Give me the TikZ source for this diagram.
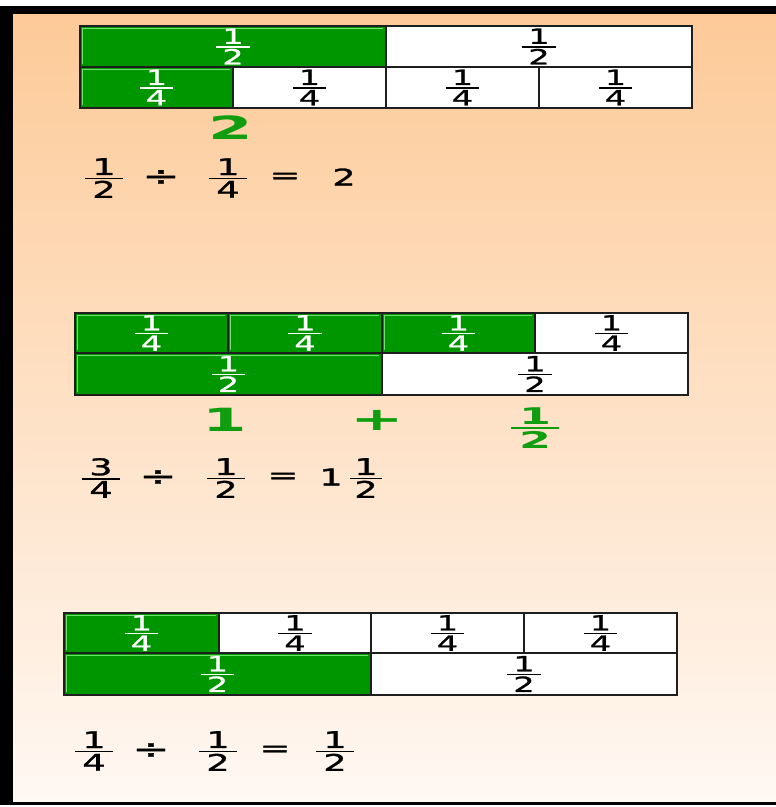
\documentclass[tikz,border=0pt]{standalone}
\usepackage{fontspec}
\setmainfont{DejaVu Sans}
\newfontfamily\cellfont[FakeStretch=1.6,FakeBold=1.3]{DejaVu Sans}
\newfontfamily\eqfont[FakeStretch=1.6,FakeBold=1.3]{DejaVu Sans}
\newfontfamily\bigfont[FakeStretch=2.0]{DejaVu Sans}

\definecolor{bgtop}{RGB}{253,202,152}
\definecolor{bgmid}{RGB}{255,225,198}
\definecolor{bgbot}{RGB}{255,248,243}
\definecolor{cellgreen}{RGB}{0,150,0}
\definecolor{bevelgreen}{RGB}{110,225,110}
\definecolor{labelgreen}{RGB}{16,158,16}
\definecolor{gridline}{RGB}{30,30,30}

% stacked fraction: #1 side padding, #2 numerator, #3 denominator, #4 bar thickness
\newcommand\stackfrac[4]{$\hbox{}{\hbox{\kern#1#2\kern#1}\above #4\hbox{\kern#1#3\kern#1}}$}
\newcommand\cfr[2]{{\cellfont\fontsize{21}{21}\selectfont\stackfrac{6pt}{#1}{#2}{1.4pt}}}
\newcommand\efr[2]{{\eqfont\fontsize{23}{23}\selectfont\stackfrac{7pt}{#1}{#2}{1.5pt}}}
% wider division sign
\newcommand\divsign{{\fontsize{28}{28}\selectfont ÷}}

\tikzset{
  cellbase/.style={draw=gridline, line width=2pt, inner sep=0pt, anchor=center},
  whitecell/.style={cellbase, fill=white, text=black},
  greencell/.style={cellbase, fill=cellgreen, text=white,
    path picture={\draw[bevelgreen, line width=1.6pt]
      ([xshift=2.6pt,yshift=2.6pt]path picture bounding box.south west) |-
      ([xshift=-2.6pt,yshift=-2.6pt]path picture bounding box.north east);}},
  eqtext/.style={inner sep=0pt, text=black, font=\eqfont\fontsize{23}{23}\selectfont},
  biglabel/.style={inner sep=0pt, text=labelgreen, font=\bigfont\bfseries\fontsize{32}{32}\selectfont},
}

\begin{document}
\begin{tikzpicture}[x=1pt,y=-1pt]
\useasboundingbox (0,0) rectangle (776,807);

% background and frame
\fill[white] (0,0) rectangle (776,807);
\shade[top color=bgtop, middle color=bgmid, bottom color=bgbot] (13,14) rectangle (776,802);
\fill[black] (0,6) rectangle (776,14);
\fill[black] (0,6) rectangle (13,805);
\fill[black] (0,801.5) rectangle (776,804.5);

% ---- 1/2 divided by 1/4 ----
\node[greencell, minimum width=306, minimum height=41] (a1) at (233,46.5) {\cfr{1}{2}};
\node[whitecell, minimum width=306, minimum height=41] (a2) at (539,46.5) {\cfr{1}{2}};
\node[greencell, minimum width=153, minimum height=41] (b1) at (156.5,87.5) {\cfr{1}{4}};
\node[whitecell, minimum width=153, minimum height=41] (b2) at (309.5,87.5) {\cfr{1}{4}};
\node[whitecell, minimum width=153, minimum height=41] (b3) at (462.5,87.5) {\cfr{1}{4}};
\node[whitecell, minimum width=153, minimum height=41] (b4) at (615.5,87.5) {\cfr{1}{4}};
\node[biglabel] (q1) at (231,128) {2};

\node[eqtext] (e1a) at (104,178) {\efr{1}{2}};
\node[eqtext] (e1b) at (161,178) {\divsign};
\node[eqtext] (e1c) at (228,178) {\efr{1}{4}};
\node[eqtext] (e1d) at (285,178) {=};
\node[eqtext] (e1e) at (344,177) {2};

% ---- 3/4 divided by 1/2 ----
\node[greencell, minimum width=153, minimum height=40] (c1) at (151.5,333) {\cfr{1}{4}};
\node[greencell, minimum width=154, minimum height=40] (c2) at (305,333) {\cfr{1}{4}};
\node[greencell, minimum width=153, minimum height=40] (c3) at (458.5,333) {\cfr{1}{4}};
\node[whitecell, minimum width=153, minimum height=40] (c4) at (611.5,333) {\cfr{1}{4}};
\node[greencell, minimum width=307, minimum height=42] (d1) at (228.5,374) {\cfr{1}{2}};
\node[whitecell, minimum width=306, minimum height=42] (d2) at (535,374) {\cfr{1}{2}};
\node[biglabel] (q2a) at (225,420) {1};
\node[biglabel] (q2b) at (377,420) {+};
\node[biglabel, font=\bigfont\bfseries\fontsize{23}{23}\selectfont] (q2c) at (535,428)
  {\stackfrac{8pt}{1}{2}{2pt}};

\node[eqtext] (e2a) at (101,478) {\efr{3}{4}};
\node[eqtext] (e2b) at (158,478) {\divsign};
\node[eqtext] (e2c) at (226,478) {\efr{1}{2}};
\node[eqtext] (e2d) at (283,478) {=};
\node[eqtext] (e2e) at (331,477) {1};
\node[eqtext] (e2f) at (366,478) {{\eqfont\fontsize{23}{23}\selectfont\stackfrac{4pt}{1}{2}{1.5pt}}};

% ---- 1/4 divided by 1/2 ----
\node[greencell, minimum width=155, minimum height=40] (f1) at (141.5,633) {\cfr{1}{4}};
\node[whitecell, minimum width=152, minimum height=40] (f2) at (295,633) {\cfr{1}{4}};
\node[whitecell, minimum width=153, minimum height=40] (f3) at (447.5,633) {\cfr{1}{4}};
\node[whitecell, minimum width=153, minimum height=40] (f4) at (600.5,633) {\cfr{1}{4}};
\node[greencell, minimum width=307, minimum height=42] (g1) at (217.5,674) {\cfr{1}{2}};
\node[whitecell, minimum width=306, minimum height=42] (g2) at (524,674) {\cfr{1}{2}};

\node[eqtext] (e3a) at (94,751) {\efr{1}{4}};
\node[eqtext] (e3b) at (151,751) {\divsign};
\node[eqtext] (e3c) at (218,751) {\efr{1}{2}};
\node[eqtext] (e3d) at (275,751) {=};
\node[eqtext] (e3e) at (335,751) {\efr{1}{2}};
\end{tikzpicture}
\end{document}
